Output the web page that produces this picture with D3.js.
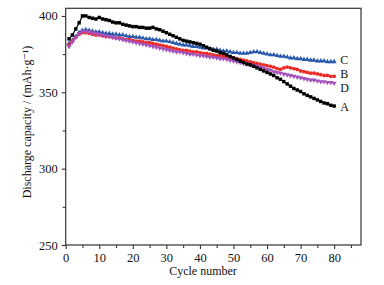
<!DOCTYPE html>
<html>
<head>
	<meta charset="utf-8">
	<script src="https://d3js.org/d3.v7.min.js"></script>
	<title>Discharge capacity</title>
	<style>
		body { margin: 0; background: #fff; }
		text { font-family: "Liberation Serif", "DejaVu Serif", serif; }
	</style>
</head>
<body>
	<div id="chart"></div>

	<script type="text/javascript">

		// values, cycle 1..80
		var seriesA = [385, 387.5, 391.5, 395.5, 400, 400, 399, 398.5, 398, 399,
			398, 397.5, 397, 396, 395.5, 395.5, 394.5, 394, 393.5, 393,
			393, 392.5, 392.5, 392, 392, 392.5, 391.5, 391, 390, 389,
			388, 387, 386, 385, 384, 383.5, 383, 382.5, 382, 381.5,
			380.5, 379.5, 378.5, 377.5, 377, 376, 375.5, 374.5, 373.5, 372.5,
			371.5, 370.5, 369.5, 368.5, 368, 367, 366, 365, 364, 363,
			362, 361, 359.5, 358.5, 357, 355.5, 354, 352.5, 351.5, 350.5,
			349, 348, 347, 346, 345, 344, 343, 342.5, 341.5, 341];

		var seriesB = [381, 383.5, 386, 388, 389, 389, 388.5, 388, 387.5, 387.5,
			387, 386.5, 386.5, 386, 385.5, 385.5, 385, 384.5, 384.5, 384,
			383.5, 383.5, 383, 382.5, 382.5, 382, 381.5, 381, 380.5, 380,
			379.5, 379, 378.5, 378, 377.5, 377.5, 377, 376.5, 376.5, 376,
			375.5, 375.5, 375, 374.5, 374, 374, 373.5, 373, 372.5, 372.5,
			372, 371.5, 371, 370.5, 370, 369.5, 369, 368.5, 368, 367.5,
			367, 366.5, 365.5, 365, 366, 366.5, 366, 365.5, 365, 364,
			363.5, 363, 362.5, 362.5, 362, 361.5, 361, 361, 360.5, 360.5];

		var seriesC = [382, 384, 386.5, 389, 390.5, 391, 390.5, 390, 389.5, 389.5,
			389, 388.5, 388.5, 388, 388, 387.5, 387.5, 387, 386.5, 386.5,
			386, 386, 385.5, 385, 385, 384.5, 384.5, 384, 383.5, 383.5,
			383, 382.5, 382, 381.5, 381, 381, 380.5, 380, 380, 379.5,
			379, 379, 378.5, 378, 378, 377.5, 377, 377, 376.5, 376,
			376, 375.5, 375.5, 375.5, 376, 376.5, 376.5, 376, 375.5, 375,
			374.5, 374.5, 374, 373.5, 373.5, 373, 372.5, 372.5, 372, 372,
			371.5, 371.5, 371, 371, 370.5, 370.5, 370.5, 370, 370, 370];

		var seriesD = [380, 383, 386, 388.5, 390, 390, 389.5, 389, 388.5, 388,
			387.5, 387, 386.5, 386, 385.5, 385, 384.5, 384, 383.5, 383,
			382.5, 382, 381.5, 381, 380.5, 380, 379.5, 379, 378.5, 378,
			377.5, 377, 376.5, 376.5, 376, 375.5, 375, 375, 374.5, 374,
			374, 373.5, 373, 373, 372.5, 372, 372, 371.5, 371, 370.5,
			370, 369.5, 369, 368.5, 368, 367.5, 367, 366.5, 366, 365,
			364.5, 363.5, 363, 362.5, 362, 361.5, 361, 360.5, 360, 359.5,
			359, 358.5, 358, 358, 357.5, 357, 357, 356.5, 356.5, 356];

		var xTicks = [0, 10, 20, 30, 40, 50, 60, 70, 80];
		var xMinor = [5, 15, 25, 35, 45, 55, 65, 75, 85];
		var yTicks = [250, 300, 350, 400];
		var yMinor = [275, 325, 375];

		var svgWidth = 384, svgHeight = 285;
		var plotLeft = 65.7, plotRight = 361, plotTop = 8.3, plotBottom = 245;

		var svg = d3.select("#chart").append("svg")
			.attr("width", svgWidth)
			.attr("height", svgHeight);

		var xScale = d3.scaleLinear().domain([0, 88]).range([plotLeft, plotRight]);
		var yScale = d3.scaleLinear().domain([250, 405]).range([plotBottom, plotTop]);

		// labelShift nudges the end labels apart so C, B and D don't collide
		var series = [
			{ name: "C", values: seriesC, color: "#2a5aae", shape: d3.symbolTriangle, rot: 0, labelShift: -2 },
			{ name: "B", values: seriesB, color: "#ee2a24", shape: d3.symbolCircle, rot: 0, labelShift: -2.5 },
			{ name: "D", values: seriesD, color: "#a452bc", shape: d3.symbolTriangle, rot: 180, labelShift: 4.5 },
			{ name: "A", values: seriesA, color: "#000000", shape: d3.symbolSquare, rot: 0, labelShift: 1 }
		];

		var line = d3.line()
			.x(function(d, i){ return xScale(i + 1); })
			.y(function(d){ return yScale(d); });

		series.forEach(function(s){
			var g = svg.append("g");
			g.append("path")
				.attr("d", line(s.values))
				.attr("fill", "none")
				.attr("stroke", s.color)
				.attr("stroke-width", 1.2);
			g.selectAll("path.pt")
				.data(s.values).enter().append("path")
				.attr("class", "pt")
				.attr("d", d3.symbol().type(s.shape).size(s.shape == d3.symbolSquare ? 12 : 11))
				.attr("transform", function(d, i){
					return "translate(" + xScale(i + 1) + "," + yScale(d) + ") rotate(" + s.rot + ")";
				})
				.attr("fill", s.color);
			g.append("text")
				.attr("x", xScale(80) + 6)
				.attr("y", yScale(s.values[79]) + s.labelShift)
				.attr("dy", "0.35em")
				.attr("font-size", 12)
				.attr("fill", "#111")
				.text(s.name);
		});

		// frame
		svg.append("rect")
			.attr("x", plotLeft).attr("y", plotTop)
			.attr("width", plotRight - plotLeft).attr("height", plotBottom - plotTop)
			.attr("fill", "none")
			.attr("stroke", "#333")
			.attr("stroke-width", 1.2);

		var xAxis = d3.axisBottom(xScale).tickValues(xTicks).tickSize(4).tickPadding(4);
		var yAxis = d3.axisLeft(yScale).tickValues(yTicks).tickSize(4).tickPadding(4);

		svg.append("g").attr("transform", "translate(0," + plotBottom + ")").call(xAxis);
		svg.append("g").attr("transform", "translate(" + plotLeft + ",0)").call(yAxis);

		svg.append("g").attr("transform", "translate(0," + plotBottom + ")")
			.call(d3.axisBottom(xScale).tickValues(xMinor).tickSize(3).tickFormat(""));
		svg.append("g").attr("transform", "translate(" + plotLeft + ",0)")
			.call(d3.axisLeft(yScale).tickValues(yMinor).tickSize(3).tickFormat(""));

		svg.selectAll(".domain").remove();
		svg.selectAll(".tick line").attr("stroke", "#333").attr("stroke-width", 1.1);
		svg.selectAll(".tick text")
			.attr("font-family", "Liberation Serif, serif")
			.attr("font-size", 12.5)
			.attr("fill", "#111");

		svg.append("text")
			.attr("x", 203)
			.attr("y", 275)
			.attr("text-anchor", "middle")
			.attr("font-size", 12)
			.attr("fill", "#111")
			.text("Cycle number");

		svg.append("text")
			.attr("transform", "translate(31,122) rotate(-90)")
			.attr("text-anchor", "middle")
			.attr("font-size", 12)
			.attr("fill", "#111")
			.text("Discharge capacity / (mAh\u00b7g\u207b\u00b9)");

	</script>
</body>
</html>
